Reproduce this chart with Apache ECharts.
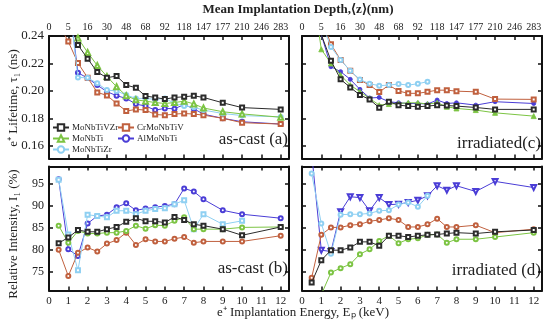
<!DOCTYPE html>
<html><head><meta charset="utf-8">
<script src="https://cdn.jsdelivr.net/npm/echarts@6/dist/echarts.min.js"></script>
<style>html,body{margin:0;padding:0;background:#fff}#c{width:550px;height:328px}</style>
</head><body><div id="c"></div>
<script>
const energies = [0.5,1,1.5,2,2.5,3,3.5,4,4.5,5,5.5,6,6.5,7,7.5,8,9,10,12];
const xTicks = [0,1,2,3,4,5,6,7,8,9,10,11,12];
const depthLabels = ['0','5','16','30','48','68','92','118','147','177','210','246','283'];
const tauTicks = [0.16,0.18,0.20,0.22,0.24];
const intTicks = [75,80,85,90,95];
const names = ['MoNbTiVZr','MoNbTi','MoNbTiZr','CrMoNbTiV','AlMoNbTi'];

// (a) lifetime, as-cast (ns)
const aBlack  = [0.29,0.253,0.2334,0.2235,0.2137,0.2096,0.2108,0.2042,0.2023,0.1962,0.1952,0.194,0.1952,0.1957,0.1964,0.1952,0.1913,0.1878,0.1865];
const aGreen  = [0.29,0.255,0.2385,0.228,0.2185,0.2105,0.203,0.1965,0.1935,0.1925,0.1915,0.1908,0.1915,0.1925,0.1905,0.1875,0.1848,0.1832,0.1808];
const aCyan   = [0.30,0.27,0.2098,0.2095,0.2055,0.2006,0.1999,0.197,0.1945,0.1945,0.1938,0.1945,0.191,0.189,0.188,0.186,0.1835,0.182,0.181];
const aOrange = [0.249,0.2359,0.2203,0.2096,0.1989,0.1967,0.1908,0.1853,0.1865,0.186,0.1828,0.1823,0.1831,0.1835,0.1831,0.1823,0.180,0.1768,0.1758];
const aBlue   = [0.31,0.269,0.2132,0.2093,0.2042,0.1994,0.1965,0.1945,0.1904,0.1889,0.186,0.1872,0.187,0.190,0.187,0.183,0.180,0.1775,0.1758];
// (c) lifetime, irradiated (ns)
const cBlack  = [0.27,0.241,0.222,0.2084,0.2025,0.197,0.1938,0.1877,0.1921,0.1896,0.1889,0.1884,0.1889,0.1896,0.1893,0.1889,0.1879,0.1865,0.1865];
const cGreen  = [0.279,0.2303,0.2200,0.2115,0.2042,0.1994,0.1945,0.1896,0.1904,0.1908,0.1913,0.1913,0.1904,0.1913,0.1884,0.1872,0.186,0.184,0.1816];
const cCyan   = [0.28,0.25,0.232,0.2225,0.2147,0.2083,0.2052,0.2038,0.2042,0.205,0.2042,0.2052,0.2067,null,null,null,null,null,null];
const cOrange = [0.27,0.253,0.234,0.2225,0.2147,0.2079,0.2042,0.1991,0.2042,0.1999,0.1982,0.1982,0.1993,0.2005,0.2005,0.1998,0.1993,0.194,0.1938];
const cBlue   = [0.28,0.241,0.2176,0.214,0.2084,0.2011,0.1948,0.1952,0.1921,0.1913,0.1908,0.1908,0.1904,0.1933,0.1908,0.1913,0.1896,0.1921,0.1908];
// (b) relative intensity, as-cast (%)
const bBlack  = [81.5,82.8,84.5,84.1,84.1,84.7,85.2,86.4,87.2,86.5,86.5,86.2,87.5,86.8,85.8,85.5,84.7,83.3,85.2];
const bGreen  = [85.5,81.6,84.3,83.7,83.7,83.9,83.9,84.3,85.5,84.8,85.6,85.5,86.6,87.4,84.7,84.7,84.7,85.1,85.2];
const bCyan   = [96.0,83.5,75.3,88.0,87.7,87.4,88.9,88.9,88.1,88.9,89.3,89.5,90.4,91.3,84.7,88.1,85.8,86.6,null];
const bOrange = [80.0,74.0,79.3,80.5,79.6,81.4,82.2,83.9,81.1,82.4,81.9,81.9,82.5,82.9,81.6,81.9,81.9,81.9,83.2];
const bBlue   = [96.1,80.1,78.6,86.0,87.7,88.0,89.7,90.6,89.0,89.4,89.7,90.0,90.4,94.0,93.3,91.5,89.0,88.1,87.2];
// (d) relative intensity, irradiated (%)
const dBlack  = [72.5,77.6,79.9,79.9,80.5,81.8,81.8,80.9,83.2,83.2,82.9,83.2,83.4,83.5,83.7,83.9,83.7,84.1,84.5];
const dGreen  = [62.0,69.8,74.8,75.8,76.7,79.0,80.1,82.0,83.2,81.5,82.4,82.6,83.4,83.5,81.6,82.4,82.4,82.9,83.9];
const dCyan   = [97.4,86.0,79.1,88.0,88.1,88.1,88.3,88.9,89.0,90.3,90.8,89.8,92.3,null,null,null,null,null,null];
const dOrange = [73.6,83.4,85.1,85.1,85.6,85.8,86.5,86.8,87.2,86.8,85.2,85.2,85.8,87.1,85.2,85.2,85.6,83.9,84.7];
const dBlue   = [102.0,79.9,79.6,88.7,92.1,91.9,88.9,91.9,90.3,90.4,90.8,91.3,92.3,94.6,93.6,94.6,93.3,95.6,94.2];

const colors = ['#2b2b2b','#7cc443','#8fd0f2','#c0603e','#4a3dd6'];
const FONT = 'Liberation Serif';
const TXT = '#222';
const XMAX = 12.43;

const grids = [
  {left:49, top:36, width:240, height:122.5},
  {left:302, top:36, width:240, height:122.5},
  {left:49, top:166.5, width:240, height:124},
  {left:302, top:166.5, width:240, height:124}
];
const yRange = [[0.1507,0.24],[0.1507,0.24],[70.7,99],[70.7,99]];
const yTickVals = [tauTicks,tauTicks,intTicks,intTicks];

const xAxis = [], yAxis = [];
const axLine = {show:true, onZero:false, lineStyle:{color:'#111', width:2}};
grids.forEach((g,i)=>{
  const bottomLabels = (i>=2);
  const topLabels = (i<2);
  xAxis.push({type:'value', gridIndex:i, position:'bottom', min:0, max:XMAX,
    axisLine:axLine, splitLine:{show:false},
    axisTick:{show:true, inside:true, length:4, customValues:xTicks, lineStyle:{color:'#111', width:1.5}},
    axisLabel:{show:bottomLabels, customValues:xTicks, fontFamily:FONT, fontSize:11, color:TXT, margin:5}});
  xAxis.push({type:'value', gridIndex:i, position:'top', min:0, max:XMAX,
    axisLine:axLine, splitLine:{show:false},
    axisTick:{show:true, inside:true, length:4, customValues:xTicks, lineStyle:{color:'#111', width:1.5}},
    axisLabel:{show:topLabels, customValues:xTicks, fontFamily:FONT, fontSize:10, color:TXT, margin:4,
      formatter:(v)=>depthLabels[Math.round(v)]}});
  const leftLabels = (i===0||i===2);
  yAxis.push({type:'value', gridIndex:i, position:'left', min:yRange[i][0], max:yRange[i][1],
    axisLine:axLine, splitLine:{show:false},
    axisTick:{show:true, inside:true, length:4, customValues:yTickVals[i], lineStyle:{color:'#111', width:1.5}},
    axisLabel:{show:leftLabels, customValues:yTickVals[i], fontFamily:FONT, fontSize:(i===0?13:12), color:TXT, margin:5,
      formatter:(v)=> i<2 ? v.toFixed(2) : String(v)}});
  yAxis.push({type:'value', gridIndex:i, position:'right', min:yRange[i][0], max:yRange[i][1],
    axisLine:axLine, splitLine:{show:false},
    axisTick:{show:true, inside:true, length:4, customValues:yTickVals[i], lineStyle:{color:'#111', width:1.5}},
    axisLabel:{show:false}});
});

const panelData = [
  [aBlack,aGreen,aCyan,aOrange,aBlue],
  [cBlack,cGreen,cCyan,cOrange,cBlue],
  [bBlack,bGreen,bCyan,bOrange,bBlue],
  [dBlack,dGreen,dCyan,dOrange,dBlue]
];
const panelSymbols = [
  ['emptyRect','emptyTriangle','emptyCircle','emptyRect','emptyCircle'],
  ['emptyRect','triangle','emptyCircle','emptyRect','circle'],
  ['emptyRect','emptyCircle','emptyRect','emptyCircle','emptyCircle'],
  ['emptyRect','emptyCircle','emptyCircle','emptyCircle','emptyTriangle']
];
const series = [];
panelData.forEach((arrs,p)=>{
  arrs.forEach((arr,k)=>{
    const data = [];
    energies.forEach((e,j)=>{ if(arr[j]!==null) data.push([e,arr[j]]); });
    const sym = panelSymbols[p][k];
    series.push({
      type:'line', name:names[k], xAxisIndex:2*p, yAxisIndex:2*p, data,
      symbol:sym, symbolSize:(sym.indexOf('riangle')>=0?5:4),
      symbolRotate:(p===3&&k===4)?180:0,
      lineStyle:{color:colors[k], width:1},
      itemStyle:{color:colors[k], borderColor:colors[k], borderWidth:0.9},
      clip:true, animation:false, z:10-k
    });
  });
});

const legendCommon = {orient:'vertical', itemGap:2, itemWidth:16, itemHeight:8, padding:0,
  textStyle:{fontFamily:FONT, fontSize:9, color:TXT, padding:[0,0,0,-2]}, selectedMode:false};

const option = {
  animation:false,
  grid:grids,
  xAxis, yAxis, series,
  legend:[
    Object.assign({left:52, top:123, data:names.slice(0,3)}, legendCommon),
    Object.assign({left:117, top:123, data:names.slice(3)}, legendCommon)
  ],
  graphic:[
    {type:'text', x:298, y:10, style:{text:'Mean Implantation Depth,⟨z⟩(nm)', fontFamily:FONT, fontSize:13, fontWeight:'bold', fill:TXT, align:'center', verticalAlign:'middle'}},
    {type:'text', x:303, y:313, style:{text:'e⁺ Implantation Energy, Eₚ (keV)', fontFamily:FONT, fontSize:13, fill:TXT, align:'center', verticalAlign:'middle'}},
    {type:'text', x:14, y:98, rotation:Math.PI/2, style:{text:'e⁺ Lifetime, τ₁ (ns)', fontFamily:FONT, fontSize:13, fill:TXT, align:'center', verticalAlign:'middle'}},
    {type:'text', x:14, y:234, rotation:Math.PI/2, style:{text:'Relative Intensity, I₁ (%)', fontFamily:FONT, fontSize:13, fill:TXT, align:'center', verticalAlign:'middle'}},
    {type:'text', x:288, y:140, style:{text:'as-cast (a)', fontFamily:FONT, fontSize:17, fill:TXT, align:'right', verticalAlign:'middle'}},
    {type:'text', x:541, y:144, style:{text:'irradiated(c)', fontFamily:FONT, fontSize:17, fill:TXT, align:'right', verticalAlign:'middle'}},
    {type:'text', x:288, y:269, style:{text:'as-cast (b)', fontFamily:FONT, fontSize:17, fill:TXT, align:'right', verticalAlign:'middle'}},
    {type:'text', x:541, y:271, style:{text:'irradiated (d)', fontFamily:FONT, fontSize:17, fill:TXT, align:'right', verticalAlign:'middle'}}
  ]
};
const chart = echarts.init(document.getElementById('c'), null, {renderer:'canvas'});
chart.setOption(option);
</script></body></html>
